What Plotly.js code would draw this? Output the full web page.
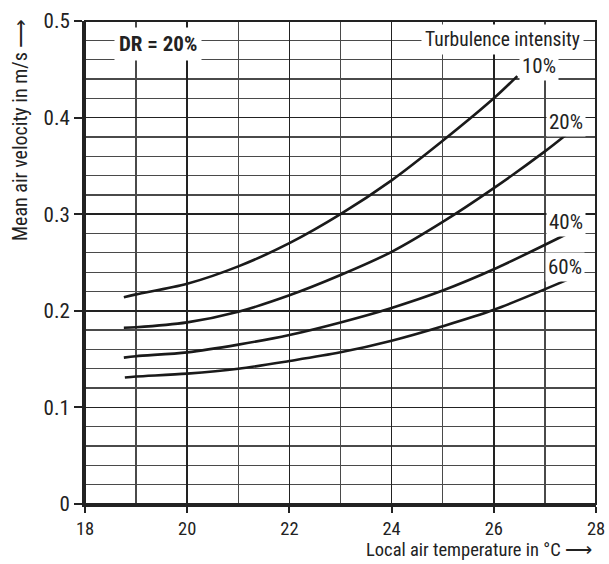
<!DOCTYPE html>
<html><head><meta charset="utf-8">
<script src="https://cdn.plot.ly/plotly-3.0.1.min.js"></script>
<style>html,body{margin:0;padding:0;background:#fff}#chart{width:609px;height:564px}</style>
</head><body><div id="chart"></div>
<script>
// Local air temperature (°C) sample points and mean air velocity (m/s)
const temp10 = [18.76, 19, 20, 21, 22, 23, 24, 25, 26, 26.46];
const vel10  = [0.214, 0.217, 0.228, 0.246, 0.270, 0.300, 0.335, 0.376, 0.420, 0.443];
const temp20 = [18.76, 19, 20, 21, 22, 23, 24, 25, 26, 27, 27.41];
const vel20  = [0.1825, 0.183, 0.188, 0.199, 0.216, 0.237, 0.261, 0.292, 0.327, 0.365, 0.382];
const temp40 = [18.76, 19, 20, 21, 22, 23, 24, 25, 26, 27.41];
const vel40  = [0.1515, 0.153, 0.157, 0.165, 0.175, 0.188, 0.203, 0.221, 0.243, 0.279];
const temp60 = [18.78, 19, 20, 21, 22, 23, 24, 25, 26, 27.48];
const vel60  = [0.131, 0.132, 0.135, 0.140, 0.148, 0.157, 0.169, 0.184, 0.201, 0.233];
const seriesNames = ["10%", "20%", "40%", "60%"];
const labelX = [26.885, 27.41, 27.41, 27.40];
const labelY = [0.4537, 0.3953, 0.292, 0.2456];
const xTicks = [18, 20, 22, 24, 26, 28];
const yTicks = [0, 0.1, 0.2, 0.3, 0.4, 0.5];
const yTickText = ["0", "0.1", "0.2", "0.3", "0.4", "0.5"];

const FONT = "'Liberation Sans Narrow', 'Arial Narrow', 'Roboto Condensed', 'Liberation Sans', sans-serif";
const INK = '#222';
const temps = [temp10, temp20, temp40, temp60];
const vels = [vel10, vel20, vel40, vel60];
const traces = temps.map((t, i) => ({
  x: t, y: vels[i], mode: 'lines', name: seriesNames[i],
  line: {color: '#1a1a1a', width: 2.6, shape: 'spline', smoothing: 0.9},
  hoverinfo: 'skip'
}));

const annotations = seriesNames.map((n, i) => ({
  x: labelX[i], y: labelY[i], xref: 'x', yref: 'y', text: n, showarrow: false,
  font: {family: FONT, size: 21, color: INK}, bgcolor: '#fff', borderpad: 2
}));
annotations.push({
  x: 19.42, y: 0.476, xref: 'x', yref: 'y', text: '<b>DR = 20%</b>', showarrow: false,
  font: {family: FONT, size: 21, color: INK}, bgcolor: '#fff', borderpad: 4
});
annotations.push({
  x: 1, xanchor: 'right', y: 0.481, xref: 'paper', yref: 'y', xshift: -12,
  text: 'Turbulence intensity', showarrow: false,
  font: {family: FONT, size: 19.5, color: INK}, bgcolor: '#fff', borderpad: 3
});
// axis titles placed like the reference (top-left / bottom-right)
annotations.push({
  x: 0, xref: 'paper', xshift: -65, xanchor: 'center',
  y: 1, yref: 'paper', yshift: 4, yanchor: 'top', textangle: -90,
  text: 'Mean air velocity in m/s ⟶', showarrow: false,
  font: {family: FONT, size: 20, color: INK}
});
annotations.push({
  x: 1, xref: 'paper', xshift: -2, xanchor: 'right',
  y: 0, yref: 'paper', yshift: -59, yanchor: 'bottom',
  text: 'Local air temperature in °C ⟶', showarrow: false,
  font: {family: FONT, size: 18.5, color: INK}
});

const layout = {
  width: 609, height: 564,
  margin: {l: 85, r: 13, t: 21, b: 60},
  paper_bgcolor: '#fff', plot_bgcolor: '#fff',
  showlegend: false,
  font: {family: FONT, size: 19, color: INK},
  xaxis: {
    range: [18, 28], tickvals: xTicks, ticktext: xTicks.map(String),
    showgrid: true, gridcolor: INK, gridwidth: 1.5,
    minor: {dtick: 1, tick0: 18, showgrid: true, gridcolor: '#4a4a4a', gridwidth: 1.3},
    ticks: 'outside', ticklen: 6, tickwidth: 2, tickcolor: INK,
    showline: true, linecolor: INK, linewidth: 3, zeroline: false,
    tickfont: {family: FONT, size: 18.5, color: INK}
  },
  yaxis: {
    range: [0, 0.5], tickvals: yTicks, ticktext: yTickText,
    showgrid: true, gridcolor: INK, gridwidth: 1.5,
    minor: {dtick: 0.02, tick0: 0, showgrid: true, gridcolor: '#4a4a4a', gridwidth: 1.3},
    ticks: 'outside', ticklen: 8, tickwidth: 2, tickcolor: INK,
    showline: true, linecolor: INK, linewidth: 3, zeroline: false,
    tickfont: {family: FONT, size: 21, color: INK}
  },
  shapes: [{type: 'rect', xref: 'paper', yref: 'paper', x0: 0, x1: 1, y0: 0, y1: 1,
            line: {color: INK, width: 2}, layer: 'above'}],
  annotations: annotations
};
Plotly.newPlot('chart', traces, layout, {displayModeBar: false, staticPlot: true});
</script></body></html>
